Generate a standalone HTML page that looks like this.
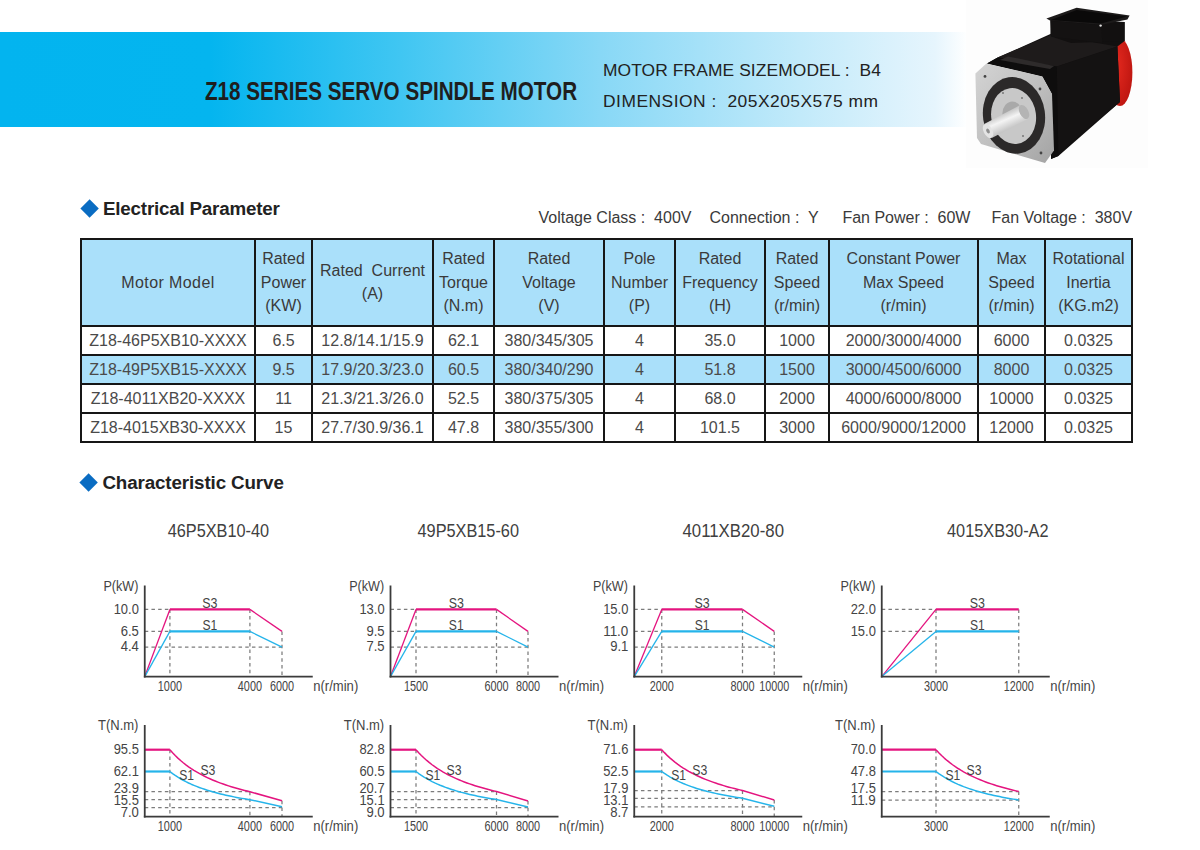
<!DOCTYPE html>
<html><head><meta charset="utf-8"><style>
html,body{margin:0;padding:0;background:#fff}
body{width:1200px;height:850px;position:relative;overflow:hidden;font-family:"Liberation Sans",sans-serif;color:#222}
.abs{position:absolute;white-space:nowrap}
.th{position:absolute;text-align:center;font-size:16px;color:#3a3a3a;white-space:nowrap}
.td{position:absolute;text-align:center;font-size:16px;color:#4a4a4a;white-space:nowrap}
.dia{position:absolute;width:13.2px;height:13.2px;background:#0a6cc2;transform:rotate(45deg)}
</style></head><body>
<div style="position:absolute;left:0;top:32px;width:1000px;height:95px;background:linear-gradient(90deg,#03b4ef 0px,#04b5ef 210px,#40c6f2 400px,#88d8f6 600px,#c2eafa 800px,#e6f5fd 935px,#ffffff 968px)"></div>
<div class="abs" style="left:205px;top:76px;font-size:26.5px;font-weight:bold;color:#1e1e1e;transform-origin:0 0;transform:scaleX(0.779)">Z18 SERIES SERVO SPINDLE MOTOR</div>
<div class="abs" style="left:603px;top:60px;font-size:17.4px;color:#222;letter-spacing:0.1px">MOTOR FRAME SIZEMODEL :&nbsp; B4</div>
<div class="abs" style="left:603px;top:91px;font-size:17.4px;color:#222;letter-spacing:0.5px">DIMENSION :&nbsp; 205X205X575 mm</div>
<svg width="1200" height="850" style="position:absolute;left:0;top:0">
<defs>
 <linearGradient id="fl" x1="0" y1="0" x2="1" y2="1">
  <stop offset="0" stop-color="#d4d4d4"/><stop offset="0.55" stop-color="#bdbdbd"/><stop offset="1" stop-color="#a3a3a3"/>
 </linearGradient>
 <linearGradient id="sh" x1="0" y1="0" x2="0" y2="1" gradientTransform="rotate(-30 .5 .5)">
  <stop offset="0" stop-color="#8e8e8e"/><stop offset="0.45" stop-color="#f4f4f4"/><stop offset="1" stop-color="#9a9a9a"/>
 </linearGradient>
 <radialGradient id="red" cx="0.35" cy="0.4" r="0.8">
  <stop offset="0" stop-color="#e4291f"/><stop offset="1" stop-color="#b8130e"/>
 </radialGradient>
</defs>
<rect x="966" y="0" width="182" height="168" fill="#fdfdfd"/>
<g transform="translate(960 0) scale(0.2)">
<ellipse cx="800" cy="362" rx="62" ry="168" fill="url(#red)"/>
<polygon points="135,318 188,288 452,170 455,99 823,110 823,205 787,233 800,510 492,780 455,795 460,470 412,382" fill="#121010"/>
<polygon points="188,288 455,175 787,233 484,332" fill="#1e1b1b"/>
<polygon points="484,332 787,233 800,510 485,770" fill="#141212"/>
<polygon points="135,318 188,288 484,332 492,780 455,795 460,470 412,382" fill="#0e0d0d"/>
<polygon points="200,300 240,282 470,330 450,345" fill="#2e2b2b"/>
<polygon points="452,99 823,110 823,205 555,215 456,182" fill="#121010"/>
<polygon points="432,92 583,39 848,77 837,97 705,125 452,104" fill="#1c1a1a"/>
<polygon points="455,100 583,50 835,83 705,118" fill="#0a0909"/>
<polygon points="452,104 705,125 712,215 456,182" fill="#141212"/>
<circle cx="703" cy="128" r="6" fill="#e0e0e0"/>
<polygon points="77,367 132,317 412,382 460,470 470,752 425,815 105,720 85,690" fill="url(#fl)"/>
<ellipse cx="270" cy="577" rx="155" ry="192" fill="#2b2929" transform="rotate(-8 270 577)"/>
<ellipse cx="268" cy="580" rx="112" ry="140" fill="#c8c8c8" transform="rotate(-8 268 580)"/>
<ellipse cx="262" cy="568" rx="50" ry="60" fill="#a9a9a9"/>
<polygon points="121,620 301,525 339,595 159,690" fill="url(#sh)"/>
<ellipse cx="320" cy="560" rx="22" ry="38" fill="#b4b4b4" transform="rotate(-28 320 560)"/>
<ellipse cx="140" cy="655" rx="22" ry="38" fill="#e4e4e4" transform="rotate(-28 140 655)"/>
<ellipse cx="140" cy="655" rx="8" ry="13" fill="#8e8e8e" transform="rotate(-28 140 655)"/>
<circle cx="125" cy="382" r="7" fill="#444"/><circle cx="400" cy="445" r="7" fill="#444"/><circle cx="405" cy="765" r="7" fill="#444"/>
<circle cx="215" cy="465" r="5" fill="#777"/><circle cx="310" cy="490" r="5" fill="#777"/><circle cx="315" cy="680" r="5" fill="#777"/>
</g>
</svg>
<div class="dia" style="left:82.5px;top:202.2px"></div>
<div class="abs" style="left:103px;top:198px;font-size:18.8px;font-weight:bold;color:#222;letter-spacing:-0.2px">Electrical Parameter</div>
<div class="abs" style="left:538.5px;top:208.5px;font-size:16px;color:#3a3a3a">Voltage Class :&nbsp; 400V</div>
<div class="abs" style="left:709.5px;top:208.5px;font-size:16px;color:#3a3a3a">Connection :&nbsp; Y</div>
<div class="abs" style="left:842.4px;top:208.5px;font-size:16px;color:#3a3a3a">Fan Power :&nbsp; 60W</div>
<div class="abs" style="left:991.5px;top:208.5px;font-size:16px;color:#3a3a3a">Fan Voltage :&nbsp; 380V</div>
<div style="position:absolute;left:80px;top:238px;width:1051px;height:87px;background:#aae0fa"></div><div style="position:absolute;left:80px;top:354px;width:1051px;height:29px;background:#aae0fa"></div><div style="position:absolute;left:80px;top:238px;width:2px;height:205px;background:#161616"></div><div style="position:absolute;left:254px;top:238px;width:2px;height:205px;background:#161616"></div><div style="position:absolute;left:311px;top:238px;width:2px;height:205px;background:#161616"></div><div style="position:absolute;left:432px;top:238px;width:2px;height:205px;background:#161616"></div><div style="position:absolute;left:493px;top:238px;width:2px;height:205px;background:#161616"></div><div style="position:absolute;left:603px;top:238px;width:2px;height:205px;background:#161616"></div><div style="position:absolute;left:674px;top:238px;width:2px;height:205px;background:#161616"></div><div style="position:absolute;left:764px;top:238px;width:2px;height:205px;background:#161616"></div><div style="position:absolute;left:828px;top:238px;width:2px;height:205px;background:#161616"></div><div style="position:absolute;left:977px;top:238px;width:2px;height:205px;background:#161616"></div><div style="position:absolute;left:1044px;top:238px;width:2px;height:205px;background:#161616"></div><div style="position:absolute;left:1131px;top:238px;width:2px;height:205px;background:#161616"></div><div style="position:absolute;left:80px;top:238px;width:1053px;height:2px;background:#161616"></div><div style="position:absolute;left:80px;top:325px;width:1053px;height:2px;background:#161616"></div><div style="position:absolute;left:80px;top:354px;width:1053px;height:2px;background:#161616"></div><div style="position:absolute;left:80px;top:383px;width:1053px;height:2px;background:#161616"></div><div style="position:absolute;left:80px;top:412px;width:1053px;height:2px;background:#161616"></div><div style="position:absolute;left:80px;top:441px;width:1053px;height:2px;background:#161616"></div><div class="th" style="left:82px;top:270.7px;width:172px;line-height:23.6px"><span style='letter-spacing:0.4px'>Motor Model</span></div><div class="th" style="left:256px;top:247.1px;width:55px;line-height:23.6px">Rated<br>Power<br>(KW)</div><div class="th" style="left:313px;top:258.9px;width:119px;line-height:23.6px">Rated&nbsp; Current<br>(A)</div><div class="th" style="left:434px;top:247.1px;width:59px;line-height:23.6px">Rated<br>Torque<br>(N.m)</div><div class="th" style="left:495px;top:247.1px;width:108px;line-height:23.6px">Rated<br>Voltage<br>(V)</div><div class="th" style="left:605px;top:247.1px;width:69px;line-height:23.6px">Pole<br>Number<br>(P)</div><div class="th" style="left:676px;top:247.1px;width:88px;line-height:23.6px">Rated<br>Frequency<br>(H)</div><div class="th" style="left:766px;top:247.1px;width:62px;line-height:23.6px">Rated<br>Speed<br>(r/min)</div><div class="th" style="left:830px;top:247.1px;width:147px;line-height:23.6px">Constant Power<br>Max Speed<br>(r/min)</div><div class="th" style="left:979px;top:247.1px;width:65px;line-height:23.6px">Max<br>Speed<br>(r/min)</div><div class="th" style="left:1046px;top:247.1px;width:85px;line-height:23.6px">Rotational<br>Inertia<br>(KG.m2)</div><div class="td" style="left:82px;top:327px;width:172px;height:27px;line-height:27px">Z18-46P5XB10-XXXX</div><div class="td" style="left:256px;top:327px;width:55px;height:27px;line-height:27px">6.5</div><div class="td" style="left:313px;top:327px;width:119px;height:27px;line-height:27px">12.8/14.1/15.9</div><div class="td" style="left:434px;top:327px;width:59px;height:27px;line-height:27px">62.1</div><div class="td" style="left:495px;top:327px;width:108px;height:27px;line-height:27px">380/345/305</div><div class="td" style="left:605px;top:327px;width:69px;height:27px;line-height:27px">4</div><div class="td" style="left:676px;top:327px;width:88px;height:27px;line-height:27px">35.0</div><div class="td" style="left:766px;top:327px;width:62px;height:27px;line-height:27px">1000</div><div class="td" style="left:830px;top:327px;width:147px;height:27px;line-height:27px">2000/3000/4000</div><div class="td" style="left:979px;top:327px;width:65px;height:27px;line-height:27px">6000</div><div class="td" style="left:1046px;top:327px;width:85px;height:27px;line-height:27px">0.0325</div><div class="td" style="left:82px;top:356px;width:172px;height:27px;line-height:27px">Z18-49P5XB15-XXXX</div><div class="td" style="left:256px;top:356px;width:55px;height:27px;line-height:27px">9.5</div><div class="td" style="left:313px;top:356px;width:119px;height:27px;line-height:27px">17.9/20.3/23.0</div><div class="td" style="left:434px;top:356px;width:59px;height:27px;line-height:27px">60.5</div><div class="td" style="left:495px;top:356px;width:108px;height:27px;line-height:27px">380/340/290</div><div class="td" style="left:605px;top:356px;width:69px;height:27px;line-height:27px">4</div><div class="td" style="left:676px;top:356px;width:88px;height:27px;line-height:27px">51.8</div><div class="td" style="left:766px;top:356px;width:62px;height:27px;line-height:27px">1500</div><div class="td" style="left:830px;top:356px;width:147px;height:27px;line-height:27px">3000/4500/6000</div><div class="td" style="left:979px;top:356px;width:65px;height:27px;line-height:27px">8000</div><div class="td" style="left:1046px;top:356px;width:85px;height:27px;line-height:27px">0.0325</div><div class="td" style="left:82px;top:385px;width:172px;height:27px;line-height:27px">Z18-4011XB20-XXXX</div><div class="td" style="left:256px;top:385px;width:55px;height:27px;line-height:27px">11</div><div class="td" style="left:313px;top:385px;width:119px;height:27px;line-height:27px">21.3/21.3/26.0</div><div class="td" style="left:434px;top:385px;width:59px;height:27px;line-height:27px">52.5</div><div class="td" style="left:495px;top:385px;width:108px;height:27px;line-height:27px">380/375/305</div><div class="td" style="left:605px;top:385px;width:69px;height:27px;line-height:27px">4</div><div class="td" style="left:676px;top:385px;width:88px;height:27px;line-height:27px">68.0</div><div class="td" style="left:766px;top:385px;width:62px;height:27px;line-height:27px">2000</div><div class="td" style="left:830px;top:385px;width:147px;height:27px;line-height:27px">4000/6000/8000</div><div class="td" style="left:979px;top:385px;width:65px;height:27px;line-height:27px">10000</div><div class="td" style="left:1046px;top:385px;width:85px;height:27px;line-height:27px">0.0325</div><div class="td" style="left:82px;top:414px;width:172px;height:27px;line-height:27px">Z18-4015XB30-XXXX</div><div class="td" style="left:256px;top:414px;width:55px;height:27px;line-height:27px">15</div><div class="td" style="left:313px;top:414px;width:119px;height:27px;line-height:27px">27.7/30.9/36.1</div><div class="td" style="left:434px;top:414px;width:59px;height:27px;line-height:27px">47.8</div><div class="td" style="left:495px;top:414px;width:108px;height:27px;line-height:27px">380/355/300</div><div class="td" style="left:605px;top:414px;width:69px;height:27px;line-height:27px">4</div><div class="td" style="left:676px;top:414px;width:88px;height:27px;line-height:27px">101.5</div><div class="td" style="left:766px;top:414px;width:62px;height:27px;line-height:27px">3000</div><div class="td" style="left:830px;top:414px;width:147px;height:27px;line-height:27px">6000/9000/12000</div><div class="td" style="left:979px;top:414px;width:65px;height:27px;line-height:27px">12000</div><div class="td" style="left:1046px;top:414px;width:85px;height:27px;line-height:27px">0.0325</div>
<div class="dia" style="left:82.4px;top:476px"></div>
<div class="abs" style="left:102.4px;top:471.5px;font-size:18.8px;font-weight:bold;color:#222;letter-spacing:-0.12px">Characteristic Curve</div>
<svg class="ch" width="1200" height="850" viewBox="0 0 1200 850" style="position:absolute;left:0;top:0;font-family:'Liberation Sans',sans-serif"><text x="167.70" y="536.50" font-size="17.8" fill="#404040" text-anchor="start" textLength="101.5" lengthAdjust="spacingAndGlyphs">46P5XB10-40</text><line x1="144.75" y1="609.40" x2="169.90" y2="609.40" stroke="#7c7c7c" stroke-width="1.25" stroke-dasharray="3.5,3.2"/><line x1="144.75" y1="631.40" x2="169.90" y2="631.40" stroke="#7c7c7c" stroke-width="1.25" stroke-dasharray="3.5,3.2"/><line x1="169.90" y1="609.40" x2="169.90" y2="676.60" stroke="#7c7c7c" stroke-width="1.25" stroke-dasharray="3.5,3.2"/><line x1="249.90" y1="609.40" x2="249.90" y2="676.60" stroke="#7c7c7c" stroke-width="1.25" stroke-dasharray="3.5,3.2"/><line x1="144.75" y1="647.10" x2="282.00" y2="647.10" stroke="#7c7c7c" stroke-width="1.25" stroke-dasharray="3.5,3.2"/><line x1="282.00" y1="631.40" x2="282.00" y2="676.60" stroke="#7c7c7c" stroke-width="1.25" stroke-dasharray="3.5,3.2"/><polyline points="144.75,676.60 169.90,609.40" fill="none" stroke="#e4147f" stroke-width="1.3" stroke-linejoin="round"/><polyline points="144.75,676.60 169.90,631.40" fill="none" stroke="#25b4ea" stroke-width="1.3" stroke-linejoin="round"/><polyline points="249.90,609.40 282.00,631.40" fill="none" stroke="#e4147f" stroke-width="1.3" stroke-linejoin="round"/><polyline points="249.90,631.40 282.00,647.10" fill="none" stroke="#25b4ea" stroke-width="1.3" stroke-linejoin="round"/><line x1="169.90" y1="609.40" x2="249.90" y2="609.40" stroke="#e4147f" stroke-width="2.2"/><line x1="169.90" y1="631.40" x2="249.90" y2="631.40" stroke="#25b4ea" stroke-width="2.2"/><line x1="144.75" y1="585.50" x2="144.75" y2="677.50" stroke="#3b3b3b" stroke-width="1.8"/><line x1="143.85" y1="676.60" x2="312.75" y2="676.60" stroke="#3b3b3b" stroke-width="1.8"/><text x="138.45" y="591.20" font-size="14.6" fill="#444444" text-anchor="end" textLength="35.0" lengthAdjust="spacingAndGlyphs">P(kW)</text><text x="138.85" y="613.60" font-size="14.6" fill="#444444" text-anchor="end" textLength="25.2" lengthAdjust="spacingAndGlyphs">10.0</text><text x="138.85" y="635.60" font-size="14.6" fill="#444444" text-anchor="end" textLength="18.2" lengthAdjust="spacingAndGlyphs">6.5</text><text x="138.85" y="651.30" font-size="14.6" fill="#444444" text-anchor="end" textLength="18.2" lengthAdjust="spacingAndGlyphs">4.4</text><text x="169.90" y="690.80" font-size="14.6" fill="#444444" text-anchor="middle" textLength="24.2" lengthAdjust="spacingAndGlyphs">1000</text><text x="249.90" y="690.80" font-size="14.6" fill="#444444" text-anchor="middle" textLength="24.2" lengthAdjust="spacingAndGlyphs">4000</text><text x="282.00" y="690.80" font-size="14.6" fill="#444444" text-anchor="middle" textLength="24.2" lengthAdjust="spacingAndGlyphs">6000</text><text x="313.25" y="690.80" font-size="14.6" fill="#444444" text-anchor="start" textLength="45.0" lengthAdjust="spacingAndGlyphs">n(r/min)</text><text x="209.90" y="607.50" font-size="14.6" fill="#444444" text-anchor="middle" textLength="15.2" lengthAdjust="spacingAndGlyphs">S3</text><text x="209.90" y="630.00" font-size="14.6" fill="#444444" text-anchor="middle" textLength="14.8" lengthAdjust="spacingAndGlyphs">S1</text><line x1="144.75" y1="791.70" x2="249.90" y2="791.70" stroke="#7c7c7c" stroke-width="1.25" stroke-dasharray="3.5,3.2"/><line x1="144.75" y1="799.70" x2="249.90" y2="799.70" stroke="#7c7c7c" stroke-width="1.25" stroke-dasharray="3.5,3.2"/><line x1="169.90" y1="749.70" x2="169.90" y2="816.60" stroke="#7c7c7c" stroke-width="1.25" stroke-dasharray="3.5,3.2"/><line x1="249.90" y1="791.70" x2="249.90" y2="816.60" stroke="#7c7c7c" stroke-width="1.25" stroke-dasharray="3.5,3.2"/><line x1="144.75" y1="807.50" x2="282.00" y2="807.50" stroke="#7c7c7c" stroke-width="1.25" stroke-dasharray="3.5,3.2"/><line x1="282.00" y1="800.80" x2="282.00" y2="816.60" stroke="#7c7c7c" stroke-width="1.25" stroke-dasharray="3.5,3.2"/><polyline points="169.90,749.70 172.57,752.72 175.23,755.52 177.90,758.10 180.57,760.50 183.23,762.73 185.90,764.82 188.57,766.77 191.23,768.60 193.90,770.32 196.57,771.94 199.23,773.46 201.90,774.90 204.57,776.26 207.23,777.55 209.90,778.78 212.57,779.94 215.23,781.05 217.90,782.10 220.57,783.10 223.23,784.06 225.90,784.98 228.57,785.86 231.23,786.70 233.90,787.50 236.57,788.27 239.23,789.01 241.90,789.72 244.57,790.41 247.23,791.07 249.90,791.70 282.00,800.80" fill="none" stroke="#e4147f" stroke-width="1.5" stroke-linejoin="round"/><polyline points="169.90,771.50 172.57,773.53 175.23,775.40 177.90,777.14 180.57,778.75 183.23,780.25 185.90,781.65 188.57,782.96 191.23,784.19 193.90,785.34 196.57,786.43 199.23,787.45 201.90,788.42 204.57,789.33 207.23,790.20 209.90,791.02 212.57,791.80 215.23,792.55 217.90,793.25 220.57,793.93 223.23,794.57 225.90,795.19 228.57,795.78 231.23,796.34 233.90,796.88 236.57,797.40 239.23,797.90 241.90,798.37 244.57,798.83 247.23,799.27 249.90,799.70 282.00,806.70" fill="none" stroke="#25b4ea" stroke-width="1.5" stroke-linejoin="round"/><line x1="144.75" y1="749.70" x2="169.90" y2="749.70" stroke="#e4147f" stroke-width="2.2"/><line x1="144.75" y1="771.50" x2="169.90" y2="771.50" stroke="#25b4ea" stroke-width="2.2"/><line x1="144.75" y1="725.00" x2="144.75" y2="817.50" stroke="#3b3b3b" stroke-width="1.8"/><line x1="143.85" y1="816.60" x2="312.75" y2="816.60" stroke="#3b3b3b" stroke-width="1.8"/><text x="138.45" y="729.80" font-size="14.6" fill="#444444" text-anchor="end" textLength="40.5" lengthAdjust="spacingAndGlyphs">T(N.m)</text><text x="138.85" y="754.30" font-size="14.6" fill="#444444" text-anchor="end" textLength="25.2" lengthAdjust="spacingAndGlyphs">95.5</text><text x="138.85" y="776.20" font-size="14.6" fill="#444444" text-anchor="end" textLength="25.2" lengthAdjust="spacingAndGlyphs">62.1</text><text x="138.85" y="792.70" font-size="14.6" fill="#444444" text-anchor="end" textLength="25.2" lengthAdjust="spacingAndGlyphs">23.9</text><text x="138.85" y="805.00" font-size="14.6" fill="#444444" text-anchor="end" textLength="25.2" lengthAdjust="spacingAndGlyphs">15.5</text><text x="138.85" y="816.70" font-size="14.6" fill="#444444" text-anchor="end" textLength="18.2" lengthAdjust="spacingAndGlyphs">7.0</text><text x="169.90" y="830.80" font-size="14.6" fill="#444444" text-anchor="middle" textLength="24.2" lengthAdjust="spacingAndGlyphs">1000</text><text x="249.90" y="830.80" font-size="14.6" fill="#444444" text-anchor="middle" textLength="24.2" lengthAdjust="spacingAndGlyphs">4000</text><text x="282.00" y="830.80" font-size="14.6" fill="#444444" text-anchor="middle" textLength="24.2" lengthAdjust="spacingAndGlyphs">6000</text><text x="313.25" y="830.80" font-size="14.6" fill="#444444" text-anchor="start" textLength="45.0" lengthAdjust="spacingAndGlyphs">n(r/min)</text><text x="186.70" y="779.70" font-size="14.6" fill="#444444" text-anchor="middle" textLength="14.8" lengthAdjust="spacingAndGlyphs">S1</text><text x="207.90" y="774.70" font-size="14.6" fill="#444444" text-anchor="middle" textLength="15.0" lengthAdjust="spacingAndGlyphs">S3</text><text x="417.50" y="536.50" font-size="17.8" fill="#404040" text-anchor="start" textLength="101.5" lengthAdjust="spacingAndGlyphs">49P5XB15-60</text><line x1="390.50" y1="609.40" x2="416.00" y2="609.40" stroke="#7c7c7c" stroke-width="1.25" stroke-dasharray="3.5,3.2"/><line x1="390.50" y1="631.40" x2="416.00" y2="631.40" stroke="#7c7c7c" stroke-width="1.25" stroke-dasharray="3.5,3.2"/><line x1="416.00" y1="609.40" x2="416.00" y2="676.60" stroke="#7c7c7c" stroke-width="1.25" stroke-dasharray="3.5,3.2"/><line x1="496.50" y1="609.40" x2="496.50" y2="676.60" stroke="#7c7c7c" stroke-width="1.25" stroke-dasharray="3.5,3.2"/><line x1="390.50" y1="647.10" x2="528.00" y2="647.10" stroke="#7c7c7c" stroke-width="1.25" stroke-dasharray="3.5,3.2"/><line x1="528.00" y1="631.40" x2="528.00" y2="676.60" stroke="#7c7c7c" stroke-width="1.25" stroke-dasharray="3.5,3.2"/><polyline points="390.50,676.60 416.00,609.40" fill="none" stroke="#e4147f" stroke-width="1.3" stroke-linejoin="round"/><polyline points="390.50,676.60 416.00,631.40" fill="none" stroke="#25b4ea" stroke-width="1.3" stroke-linejoin="round"/><polyline points="496.50,609.40 528.00,631.40" fill="none" stroke="#e4147f" stroke-width="1.3" stroke-linejoin="round"/><polyline points="496.50,631.40 528.00,647.10" fill="none" stroke="#25b4ea" stroke-width="1.3" stroke-linejoin="round"/><line x1="416.00" y1="609.40" x2="496.50" y2="609.40" stroke="#e4147f" stroke-width="2.2"/><line x1="416.00" y1="631.40" x2="496.50" y2="631.40" stroke="#25b4ea" stroke-width="2.2"/><line x1="390.50" y1="585.50" x2="390.50" y2="677.50" stroke="#3b3b3b" stroke-width="1.8"/><line x1="389.60" y1="676.60" x2="558.50" y2="676.60" stroke="#3b3b3b" stroke-width="1.8"/><text x="384.20" y="591.20" font-size="14.6" fill="#444444" text-anchor="end" textLength="35.0" lengthAdjust="spacingAndGlyphs">P(kW)</text><text x="384.60" y="613.60" font-size="14.6" fill="#444444" text-anchor="end" textLength="25.2" lengthAdjust="spacingAndGlyphs">13.0</text><text x="384.60" y="635.60" font-size="14.6" fill="#444444" text-anchor="end" textLength="18.2" lengthAdjust="spacingAndGlyphs">9.5</text><text x="384.60" y="651.30" font-size="14.6" fill="#444444" text-anchor="end" textLength="18.2" lengthAdjust="spacingAndGlyphs">7.5</text><text x="416.00" y="690.80" font-size="14.6" fill="#444444" text-anchor="middle" textLength="24.2" lengthAdjust="spacingAndGlyphs">1500</text><text x="496.50" y="690.80" font-size="14.6" fill="#444444" text-anchor="middle" textLength="24.2" lengthAdjust="spacingAndGlyphs">6000</text><text x="528.00" y="690.80" font-size="14.6" fill="#444444" text-anchor="middle" textLength="24.2" lengthAdjust="spacingAndGlyphs">8000</text><text x="559.00" y="690.80" font-size="14.6" fill="#444444" text-anchor="start" textLength="45.0" lengthAdjust="spacingAndGlyphs">n(r/min)</text><text x="456.25" y="607.50" font-size="14.6" fill="#444444" text-anchor="middle" textLength="15.2" lengthAdjust="spacingAndGlyphs">S3</text><text x="456.25" y="630.00" font-size="14.6" fill="#444444" text-anchor="middle" textLength="14.8" lengthAdjust="spacingAndGlyphs">S1</text><line x1="390.50" y1="791.50" x2="496.50" y2="791.50" stroke="#7c7c7c" stroke-width="1.25" stroke-dasharray="3.5,3.2"/><line x1="390.50" y1="799.50" x2="496.50" y2="799.50" stroke="#7c7c7c" stroke-width="1.25" stroke-dasharray="3.5,3.2"/><line x1="416.00" y1="749.70" x2="416.00" y2="816.60" stroke="#7c7c7c" stroke-width="1.25" stroke-dasharray="3.5,3.2"/><line x1="496.50" y1="791.50" x2="496.50" y2="816.60" stroke="#7c7c7c" stroke-width="1.25" stroke-dasharray="3.5,3.2"/><line x1="390.50" y1="807.50" x2="528.00" y2="807.50" stroke="#7c7c7c" stroke-width="1.25" stroke-dasharray="3.5,3.2"/><line x1="528.00" y1="801.00" x2="528.00" y2="816.60" stroke="#7c7c7c" stroke-width="1.25" stroke-dasharray="3.5,3.2"/><polyline points="416.00,749.70 418.68,752.71 421.37,755.49 424.05,758.06 426.73,760.45 429.42,762.67 432.10,764.75 434.78,766.69 437.47,768.51 440.15,770.22 442.83,771.83 445.52,773.35 448.20,774.78 450.88,776.14 453.57,777.42 456.25,778.64 458.93,779.80 461.62,780.90 464.30,781.95 466.98,782.95 469.67,783.90 472.35,784.81 475.03,785.68 477.72,786.52 480.40,787.32 483.08,788.09 485.77,788.82 488.45,789.53 491.13,790.21 493.82,790.87 496.50,791.50 528.00,801.00" fill="none" stroke="#e4147f" stroke-width="1.5" stroke-linejoin="round"/><polyline points="416.00,771.50 418.68,773.52 421.37,775.38 424.05,777.10 426.73,778.70 429.42,780.19 432.10,781.58 434.78,782.88 437.47,784.10 440.15,785.25 442.83,786.32 445.52,787.34 448.20,788.30 450.88,789.21 453.57,790.07 456.25,790.88 458.93,791.66 461.62,792.40 464.30,793.10 466.98,793.77 469.67,794.41 472.35,795.02 475.03,795.60 477.72,796.16 480.40,796.70 483.08,797.21 485.77,797.71 488.45,798.18 491.13,798.64 493.82,799.08 496.50,799.50 528.00,807.00" fill="none" stroke="#25b4ea" stroke-width="1.5" stroke-linejoin="round"/><line x1="390.50" y1="749.70" x2="416.00" y2="749.70" stroke="#e4147f" stroke-width="2.2"/><line x1="390.50" y1="771.50" x2="416.00" y2="771.50" stroke="#25b4ea" stroke-width="2.2"/><line x1="390.50" y1="725.00" x2="390.50" y2="817.50" stroke="#3b3b3b" stroke-width="1.8"/><line x1="389.60" y1="816.60" x2="558.50" y2="816.60" stroke="#3b3b3b" stroke-width="1.8"/><text x="384.20" y="729.80" font-size="14.6" fill="#444444" text-anchor="end" textLength="40.5" lengthAdjust="spacingAndGlyphs">T(N.m)</text><text x="384.60" y="754.30" font-size="14.6" fill="#444444" text-anchor="end" textLength="25.2" lengthAdjust="spacingAndGlyphs">82.8</text><text x="384.60" y="776.20" font-size="14.6" fill="#444444" text-anchor="end" textLength="25.2" lengthAdjust="spacingAndGlyphs">60.5</text><text x="384.60" y="792.70" font-size="14.6" fill="#444444" text-anchor="end" textLength="25.2" lengthAdjust="spacingAndGlyphs">20.7</text><text x="384.60" y="805.00" font-size="14.6" fill="#444444" text-anchor="end" textLength="25.2" lengthAdjust="spacingAndGlyphs">15.1</text><text x="384.60" y="816.70" font-size="14.6" fill="#444444" text-anchor="end" textLength="18.2" lengthAdjust="spacingAndGlyphs">9.0</text><text x="416.00" y="830.80" font-size="14.6" fill="#444444" text-anchor="middle" textLength="24.2" lengthAdjust="spacingAndGlyphs">1500</text><text x="496.50" y="830.80" font-size="14.6" fill="#444444" text-anchor="middle" textLength="24.2" lengthAdjust="spacingAndGlyphs">6000</text><text x="528.00" y="830.80" font-size="14.6" fill="#444444" text-anchor="middle" textLength="24.2" lengthAdjust="spacingAndGlyphs">8000</text><text x="559.00" y="830.80" font-size="14.6" fill="#444444" text-anchor="start" textLength="45.0" lengthAdjust="spacingAndGlyphs">n(r/min)</text><text x="432.80" y="779.70" font-size="14.6" fill="#444444" text-anchor="middle" textLength="14.8" lengthAdjust="spacingAndGlyphs">S1</text><text x="454.00" y="774.70" font-size="14.6" fill="#444444" text-anchor="middle" textLength="15.0" lengthAdjust="spacingAndGlyphs">S3</text><text x="682.50" y="536.50" font-size="17.8" fill="#404040" text-anchor="start" textLength="101.5" lengthAdjust="spacingAndGlyphs">4011XB20-80</text><line x1="634.25" y1="609.40" x2="661.75" y2="609.40" stroke="#7c7c7c" stroke-width="1.25" stroke-dasharray="3.5,3.2"/><line x1="634.25" y1="631.40" x2="661.75" y2="631.40" stroke="#7c7c7c" stroke-width="1.25" stroke-dasharray="3.5,3.2"/><line x1="661.75" y1="609.40" x2="661.75" y2="676.60" stroke="#7c7c7c" stroke-width="1.25" stroke-dasharray="3.5,3.2"/><line x1="742.50" y1="609.40" x2="742.50" y2="676.60" stroke="#7c7c7c" stroke-width="1.25" stroke-dasharray="3.5,3.2"/><line x1="634.25" y1="647.10" x2="774.25" y2="647.10" stroke="#7c7c7c" stroke-width="1.25" stroke-dasharray="3.5,3.2"/><line x1="774.25" y1="631.40" x2="774.25" y2="676.60" stroke="#7c7c7c" stroke-width="1.25" stroke-dasharray="3.5,3.2"/><polyline points="634.25,676.60 661.75,609.40" fill="none" stroke="#e4147f" stroke-width="1.3" stroke-linejoin="round"/><polyline points="634.25,676.60 661.75,631.40" fill="none" stroke="#25b4ea" stroke-width="1.3" stroke-linejoin="round"/><polyline points="742.50,609.40 774.25,631.40" fill="none" stroke="#e4147f" stroke-width="1.3" stroke-linejoin="round"/><polyline points="742.50,631.40 774.25,647.10" fill="none" stroke="#25b4ea" stroke-width="1.3" stroke-linejoin="round"/><line x1="661.75" y1="609.40" x2="742.50" y2="609.40" stroke="#e4147f" stroke-width="2.2"/><line x1="661.75" y1="631.40" x2="742.50" y2="631.40" stroke="#25b4ea" stroke-width="2.2"/><line x1="634.25" y1="585.50" x2="634.25" y2="677.50" stroke="#3b3b3b" stroke-width="1.8"/><line x1="633.35" y1="676.60" x2="802.25" y2="676.60" stroke="#3b3b3b" stroke-width="1.8"/><text x="627.95" y="591.20" font-size="14.6" fill="#444444" text-anchor="end" textLength="35.0" lengthAdjust="spacingAndGlyphs">P(kW)</text><text x="628.35" y="613.60" font-size="14.6" fill="#444444" text-anchor="end" textLength="25.2" lengthAdjust="spacingAndGlyphs">15.0</text><text x="628.35" y="635.60" font-size="14.6" fill="#444444" text-anchor="end" textLength="25.2" lengthAdjust="spacingAndGlyphs">11.0</text><text x="628.35" y="651.30" font-size="14.6" fill="#444444" text-anchor="end" textLength="18.2" lengthAdjust="spacingAndGlyphs">9.1</text><text x="661.75" y="690.80" font-size="14.6" fill="#444444" text-anchor="middle" textLength="24.2" lengthAdjust="spacingAndGlyphs">2000</text><text x="742.50" y="690.80" font-size="14.6" fill="#444444" text-anchor="middle" textLength="24.2" lengthAdjust="spacingAndGlyphs">8000</text><text x="774.25" y="690.80" font-size="14.6" fill="#444444" text-anchor="middle" textLength="30.05" lengthAdjust="spacingAndGlyphs">10000</text><text x="802.75" y="690.80" font-size="14.6" fill="#444444" text-anchor="start" textLength="45.0" lengthAdjust="spacingAndGlyphs">n(r/min)</text><text x="702.12" y="607.50" font-size="14.6" fill="#444444" text-anchor="middle" textLength="15.2" lengthAdjust="spacingAndGlyphs">S3</text><text x="702.12" y="630.00" font-size="14.6" fill="#444444" text-anchor="middle" textLength="14.8" lengthAdjust="spacingAndGlyphs">S1</text><line x1="634.25" y1="790.50" x2="742.50" y2="790.50" stroke="#7c7c7c" stroke-width="1.25" stroke-dasharray="3.5,3.2"/><line x1="634.25" y1="798.25" x2="742.50" y2="798.25" stroke="#7c7c7c" stroke-width="1.25" stroke-dasharray="3.5,3.2"/><line x1="661.75" y1="749.70" x2="661.75" y2="816.60" stroke="#7c7c7c" stroke-width="1.25" stroke-dasharray="3.5,3.2"/><line x1="742.50" y1="790.50" x2="742.50" y2="816.60" stroke="#7c7c7c" stroke-width="1.25" stroke-dasharray="3.5,3.2"/><line x1="634.25" y1="806.75" x2="774.25" y2="806.75" stroke="#7c7c7c" stroke-width="1.25" stroke-dasharray="3.5,3.2"/><line x1="774.25" y1="800.00" x2="774.25" y2="816.60" stroke="#7c7c7c" stroke-width="1.25" stroke-dasharray="3.5,3.2"/><polyline points="661.75,749.70 664.44,752.64 667.13,755.35 669.83,757.86 672.52,760.19 675.21,762.36 677.90,764.39 680.59,766.28 683.28,768.06 685.98,769.73 688.67,771.30 691.36,772.78 694.05,774.18 696.74,775.50 699.43,776.76 702.12,777.95 704.82,779.08 707.51,780.15 710.20,781.17 712.89,782.15 715.58,783.08 718.27,783.97 720.97,784.82 723.66,785.64 726.35,786.42 729.04,787.17 731.73,787.89 734.42,788.58 737.12,789.24 739.81,789.88 742.50,790.50 774.25,800.00" fill="none" stroke="#e4147f" stroke-width="1.5" stroke-linejoin="round"/><polyline points="661.75,771.50 664.44,773.43 667.13,775.20 669.83,776.85 672.52,778.38 675.21,779.80 677.90,781.13 680.59,782.37 683.28,783.54 685.98,784.63 688.67,785.66 691.36,786.63 694.05,787.55 696.74,788.42 699.43,789.24 702.12,790.02 704.82,790.76 707.51,791.46 710.20,792.14 712.89,792.78 715.58,793.39 718.27,793.97 720.97,794.53 723.66,795.06 726.35,795.58 729.04,796.07 731.73,796.54 734.42,796.99 737.12,797.43 739.81,797.85 742.50,798.25 774.25,806.25" fill="none" stroke="#25b4ea" stroke-width="1.5" stroke-linejoin="round"/><line x1="634.25" y1="749.70" x2="661.75" y2="749.70" stroke="#e4147f" stroke-width="2.2"/><line x1="634.25" y1="771.50" x2="661.75" y2="771.50" stroke="#25b4ea" stroke-width="2.2"/><line x1="634.25" y1="725.00" x2="634.25" y2="817.50" stroke="#3b3b3b" stroke-width="1.8"/><line x1="633.35" y1="816.60" x2="802.25" y2="816.60" stroke="#3b3b3b" stroke-width="1.8"/><text x="627.95" y="729.80" font-size="14.6" fill="#444444" text-anchor="end" textLength="40.5" lengthAdjust="spacingAndGlyphs">T(N.m)</text><text x="628.35" y="754.30" font-size="14.6" fill="#444444" text-anchor="end" textLength="25.2" lengthAdjust="spacingAndGlyphs">71.6</text><text x="628.35" y="776.20" font-size="14.6" fill="#444444" text-anchor="end" textLength="25.2" lengthAdjust="spacingAndGlyphs">52.5</text><text x="628.35" y="792.70" font-size="14.6" fill="#444444" text-anchor="end" textLength="25.2" lengthAdjust="spacingAndGlyphs">17.9</text><text x="628.35" y="805.00" font-size="14.6" fill="#444444" text-anchor="end" textLength="25.2" lengthAdjust="spacingAndGlyphs">13.1</text><text x="628.35" y="816.70" font-size="14.6" fill="#444444" text-anchor="end" textLength="18.2" lengthAdjust="spacingAndGlyphs">8.7</text><text x="661.75" y="830.80" font-size="14.6" fill="#444444" text-anchor="middle" textLength="24.2" lengthAdjust="spacingAndGlyphs">2000</text><text x="742.50" y="830.80" font-size="14.6" fill="#444444" text-anchor="middle" textLength="24.2" lengthAdjust="spacingAndGlyphs">8000</text><text x="774.25" y="830.80" font-size="14.6" fill="#444444" text-anchor="middle" textLength="30.05" lengthAdjust="spacingAndGlyphs">10000</text><text x="802.75" y="830.80" font-size="14.6" fill="#444444" text-anchor="start" textLength="45.0" lengthAdjust="spacingAndGlyphs">n(r/min)</text><text x="678.55" y="779.70" font-size="14.6" fill="#444444" text-anchor="middle" textLength="14.8" lengthAdjust="spacingAndGlyphs">S1</text><text x="699.75" y="774.70" font-size="14.6" fill="#444444" text-anchor="middle" textLength="15.0" lengthAdjust="spacingAndGlyphs">S3</text><text x="947.00" y="536.50" font-size="17.8" fill="#404040" text-anchor="start" textLength="101.5" lengthAdjust="spacingAndGlyphs">4015XB30-A2</text><line x1="881.75" y1="609.40" x2="936.00" y2="609.40" stroke="#7c7c7c" stroke-width="1.25" stroke-dasharray="3.5,3.2"/><line x1="881.75" y1="631.40" x2="936.00" y2="631.40" stroke="#7c7c7c" stroke-width="1.25" stroke-dasharray="3.5,3.2"/><line x1="936.00" y1="609.40" x2="936.00" y2="676.60" stroke="#7c7c7c" stroke-width="1.25" stroke-dasharray="3.5,3.2"/><line x1="1018.75" y1="609.40" x2="1018.75" y2="676.60" stroke="#7c7c7c" stroke-width="1.25" stroke-dasharray="3.5,3.2"/><polyline points="881.75,676.60 936.00,609.40" fill="none" stroke="#e4147f" stroke-width="1.3" stroke-linejoin="round"/><polyline points="881.75,676.60 936.00,631.40" fill="none" stroke="#25b4ea" stroke-width="1.3" stroke-linejoin="round"/><line x1="936.00" y1="609.40" x2="1018.75" y2="609.40" stroke="#e4147f" stroke-width="2.2"/><line x1="936.00" y1="631.40" x2="1018.75" y2="631.40" stroke="#25b4ea" stroke-width="2.2"/><line x1="881.75" y1="585.50" x2="881.75" y2="677.50" stroke="#3b3b3b" stroke-width="1.8"/><line x1="880.85" y1="676.60" x2="1049.75" y2="676.60" stroke="#3b3b3b" stroke-width="1.8"/><text x="875.45" y="591.20" font-size="14.6" fill="#444444" text-anchor="end" textLength="35.0" lengthAdjust="spacingAndGlyphs">P(kW)</text><text x="875.85" y="613.60" font-size="14.6" fill="#444444" text-anchor="end" textLength="25.2" lengthAdjust="spacingAndGlyphs">22.0</text><text x="875.85" y="635.60" font-size="14.6" fill="#444444" text-anchor="end" textLength="25.2" lengthAdjust="spacingAndGlyphs">15.0</text><text x="936.00" y="690.80" font-size="14.6" fill="#444444" text-anchor="middle" textLength="24.2" lengthAdjust="spacingAndGlyphs">3000</text><text x="1018.75" y="690.80" font-size="14.6" fill="#444444" text-anchor="middle" textLength="30.05" lengthAdjust="spacingAndGlyphs">12000</text><text x="1050.25" y="690.80" font-size="14.6" fill="#444444" text-anchor="start" textLength="45.0" lengthAdjust="spacingAndGlyphs">n(r/min)</text><text x="977.38" y="607.50" font-size="14.6" fill="#444444" text-anchor="middle" textLength="15.2" lengthAdjust="spacingAndGlyphs">S3</text><text x="977.38" y="630.00" font-size="14.6" fill="#444444" text-anchor="middle" textLength="14.8" lengthAdjust="spacingAndGlyphs">S1</text><line x1="881.75" y1="791.50" x2="1018.75" y2="791.50" stroke="#7c7c7c" stroke-width="1.25" stroke-dasharray="3.5,3.2"/><line x1="881.75" y1="800.00" x2="1018.75" y2="800.00" stroke="#7c7c7c" stroke-width="1.25" stroke-dasharray="3.5,3.2"/><line x1="936.00" y1="749.70" x2="936.00" y2="816.60" stroke="#7c7c7c" stroke-width="1.25" stroke-dasharray="3.5,3.2"/><line x1="1018.75" y1="791.50" x2="1018.75" y2="816.60" stroke="#7c7c7c" stroke-width="1.25" stroke-dasharray="3.5,3.2"/><polyline points="936.00,749.70 938.76,752.71 941.52,755.49 944.27,758.06 947.03,760.45 949.79,762.67 952.55,764.75 955.31,766.69 958.07,768.51 960.83,770.22 963.58,771.83 966.34,773.35 969.10,774.78 971.86,776.14 974.62,777.42 977.38,778.64 980.13,779.80 982.89,780.90 985.65,781.95 988.41,782.95 991.17,783.90 993.92,784.81 996.68,785.68 999.44,786.52 1002.20,787.32 1004.96,788.09 1007.72,788.82 1010.48,789.53 1013.23,790.21 1015.99,790.87 1018.75,791.50" fill="none" stroke="#e4147f" stroke-width="1.5" stroke-linejoin="round"/><polyline points="936.00,771.50 938.76,773.55 941.52,775.45 944.27,777.20 947.03,778.83 949.79,780.34 952.55,781.76 955.31,783.08 958.07,784.33 960.83,785.49 963.58,786.59 966.34,787.62 969.10,788.60 971.86,789.52 974.62,790.40 977.38,791.23 980.13,792.02 982.89,792.77 985.65,793.49 988.41,794.17 991.17,794.82 993.92,795.44 996.68,796.03 999.44,796.60 1002.20,797.15 1004.96,797.67 1007.72,798.18 1010.48,798.66 1013.23,799.12 1015.99,799.57 1018.75,800.00" fill="none" stroke="#25b4ea" stroke-width="1.5" stroke-linejoin="round"/><line x1="881.75" y1="749.70" x2="936.00" y2="749.70" stroke="#e4147f" stroke-width="2.2"/><line x1="881.75" y1="771.50" x2="936.00" y2="771.50" stroke="#25b4ea" stroke-width="2.2"/><line x1="881.75" y1="725.00" x2="881.75" y2="817.50" stroke="#3b3b3b" stroke-width="1.8"/><line x1="880.85" y1="816.60" x2="1049.75" y2="816.60" stroke="#3b3b3b" stroke-width="1.8"/><text x="875.45" y="729.80" font-size="14.6" fill="#444444" text-anchor="end" textLength="40.5" lengthAdjust="spacingAndGlyphs">T(N.m)</text><text x="875.85" y="754.30" font-size="14.6" fill="#444444" text-anchor="end" textLength="25.2" lengthAdjust="spacingAndGlyphs">70.0</text><text x="875.85" y="776.20" font-size="14.6" fill="#444444" text-anchor="end" textLength="25.2" lengthAdjust="spacingAndGlyphs">47.8</text><text x="875.85" y="792.70" font-size="14.6" fill="#444444" text-anchor="end" textLength="25.2" lengthAdjust="spacingAndGlyphs">17.5</text><text x="875.85" y="805.00" font-size="14.6" fill="#444444" text-anchor="end" textLength="25.2" lengthAdjust="spacingAndGlyphs">11.9</text><text x="936.00" y="830.80" font-size="14.6" fill="#444444" text-anchor="middle" textLength="24.2" lengthAdjust="spacingAndGlyphs">3000</text><text x="1018.75" y="830.80" font-size="14.6" fill="#444444" text-anchor="middle" textLength="30.05" lengthAdjust="spacingAndGlyphs">12000</text><text x="1050.25" y="830.80" font-size="14.6" fill="#444444" text-anchor="start" textLength="45.0" lengthAdjust="spacingAndGlyphs">n(r/min)</text><text x="952.80" y="779.70" font-size="14.6" fill="#444444" text-anchor="middle" textLength="14.8" lengthAdjust="spacingAndGlyphs">S1</text><text x="974.00" y="774.70" font-size="14.6" fill="#444444" text-anchor="middle" textLength="15.0" lengthAdjust="spacingAndGlyphs">S3</text></svg>
</body></html>
